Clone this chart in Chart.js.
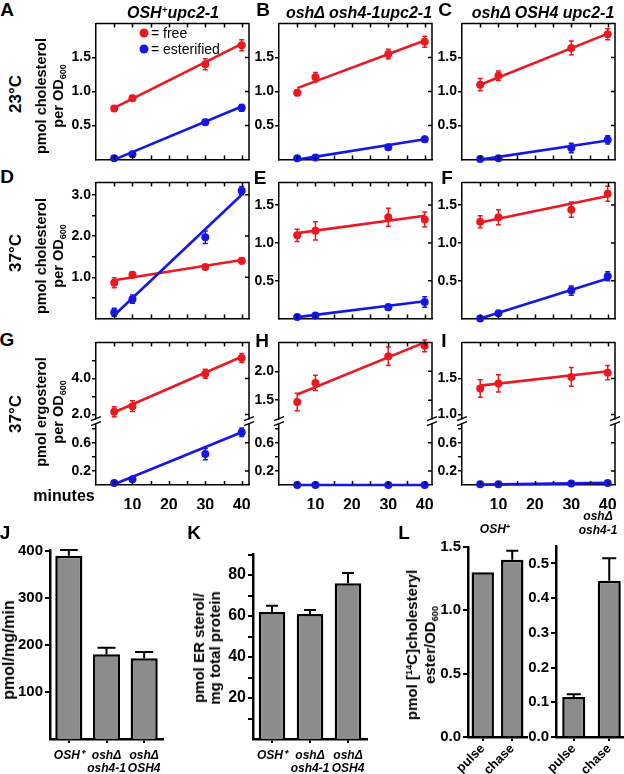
<!DOCTYPE html>
<html>
<head>
<meta charset="utf-8">
<script src="https://cdn.jsdelivr.net/npm/chart.js@4.4.0/dist/chart.umd.min.js"></script>
<style>
html, body { margin: 0; padding: 0; background: #fff; overflow: hidden; }
#fig { position: relative; width: 624px; height: 774px; overflow: hidden; font-family: "Liberation Sans", Arial, sans-serif; color: #000; }
#fig canvas { position: absolute; }
.t { position: absolute; white-space: nowrap; font-weight: bold; line-height: 1; transform: translate(-50%, -50%); text-align: center; }
.dot { position: absolute; width: 9px; height: 9px; border-radius: 50%; transform: translate(-50%, -50%); }
sub { font-size: 62%; vertical-align: -0.35em; line-height: 0; }
sup { font-size: 62%; vertical-align: 0.55em; line-height: 0; }
</style>
</head>
<body>
<div id="fig"></div>
<script>
// ---- time course data (minutes after shift) ----
const minutes = [5, 10, 30, 40];
const fitX = [5, 40];
const xTickVals = [5, 10, 15, 20, 25, 30, 35, 40];
const xLabelVals = [10, 20, 30, 40];

// A: OSH+ upc2-1, 23C
const freeA = [0.75, 0.90, 1.40, 1.68];
const freeErrA = [0.03, 0.04, 0.08, 0.08];
const estA = [0.02, 0.08, 0.55, 0.76];
const estErrA = [0.01, 0.04, 0.04, 0.05];
const fitFreeA = [0.76, 1.70];
const fitEstA = [0.0, 0.78];
// B
const freeB = [0.98, 1.21, 1.55, 1.73];
const freeErrB = [0.04, 0.07, 0.07, 0.08];
const estB = [0.02, 0.03, 0.18, 0.30];
const estErrB = [0.01, 0.01, 0.04, 0.04];
const fitFreeB = [1.05, 1.75];
const fitEstB = [0.0, 0.30];
// C
const freeC = [1.10, 1.23, 1.64, 1.84];
const freeErrC = [0.09, 0.07, 0.10, 0.08];
const estC = [0.01, 0.02, 0.17, 0.29];
const estErrC = [0.01, 0.01, 0.07, 0.06];
const fitFreeC = [1.10, 1.85];
const fitEstC = [0.0, 0.28];
// D: 37C
const freeD = [0.87, 1.06, 1.25, 1.40];
const freeErrD = [0.12, 0.07, 0.05, 0.07];
const estD = [0.15, 0.47, 1.97, 3.10];
const estErrD = [0.10, 0.10, 0.15, 0.10];
const fitFreeD = [0.93, 1.42];
const fitEstD = [0.08, 3.0];
// E
const freeE = [1.10, 1.16, 1.34, 1.31];
const freeErrE = [0.08, 0.12, 0.12, 0.10];
const estE = [0.02, 0.04, 0.15, 0.22];
const estErrE = [0.01, 0.01, 0.04, 0.07];
const fitFreeE = [1.13, 1.36];
const fitEstE = [0.02, 0.23];
// F
const freeF = [1.28, 1.34, 1.44, 1.65];
const freeErrF = [0.08, 0.10, 0.10, 0.10];
const estF = [0.0, 0.07, 0.37, 0.56];
const estErrF = [0.01, 0.02, 0.06, 0.06];
const fitFreeF = [1.27, 1.62];
const fitEstF = [0.0, 0.53];
// G: ergosterol
const freeG = [2.15, 2.46, 4.26, 5.14];
const freeErrG = [0.28, 0.30, 0.25, 0.25];
const estG = [0.03, 0.08, 0.44, 0.75];
const estErrG = [0.01, 0.02, 0.08, 0.06];
const fitFreeG = [2.12, 5.2];
const fitEstG = [0.01, 0.75];
// H
const freeH = [1.47, 1.80, 2.26, 2.44];
const freeErrH = [0.15, 0.13, 0.16, 0.10];
const estH = [0.0, 0.0, 0.0, 0.0];
const estErrH = [0, 0, 0, 0];
const fitFreeH = [1.60, 2.50];
const fitEstH = [0.0, 0.0];
// I
const freeI = [1.36, 1.43, 1.52, 1.58];
const freeErrI = [0.12, 0.12, 0.13, 0.10];
const estI = [0.01, 0.01, 0.02, 0.03];
const estErrI = [0, 0, 0, 0];
const fitFreeI = [1.40, 1.60];
const fitEstI = [0.005, 0.03];

// ---- bar panels ----
const strains = ['OSH⁺', ['oshΔ', 'osh4-1'], ['oshΔ', 'OSH4']];
const activityJ = [390, 180, 172];
const activityErrJ = [12, 14, 13];
const erSterolK = [62, 61, 76];
const erSterolErrK = [3, 2, 5];
const phases = ['pulse', 'chase'];
const esterOSH = [1.30, 1.40];
const esterErrOSH = [0, 0.07];
const esterOsh41 = [0.115, 0.45];
const esterErrOsh41 = [0.008, 0.065];

const FONT = '"Liberation Sans", Arial, sans-serif';
const RED = 'rgb(236,24,32)';
const BLUE = 'rgb(22,22,232)';
const GREY = 'rgb(140,140,140)';
Chart.defaults.font.family = FONT;
Chart.defaults.color = '#000';

const fig = document.getElementById('fig');

function addCanvas(left, top, w, h) {
    const c = document.createElement('canvas');
    c.width = w; c.height = h;
    c.style.left = left + 'px'; c.style.top = top + 'px';
    c.style.width = w + 'px'; c.style.height = h + 'px';
    fig.appendChild(c);
    return c;
}

function txt(html, cx, cy, css, rot) {
    const d = document.createElement('div');
    d.className = 't';
    d.innerHTML = html;
    d.style.left = cx + 'px';
    d.style.top = cy + 'px';
    if (css) d.style.cssText += css;
    if (rot) d.style.transform = 'translate(-50%,-50%) rotate(-90deg)';
    fig.appendChild(d);
    return d;
}

// error bars, drawn through each dataset's own y scale
const errPlugin = {
    id: 'errbars',
    afterDatasetsDraw(chart) {
        const ctx = chart.ctx;
        chart.data.datasets.forEach((ds, i) => {
            if (!ds.errs) return;
            const meta = chart.getDatasetMeta(i);
            const ys = chart.scales[meta.yAxisID];
            ctx.save();
            ctx.strokeStyle = ds.errColor;
            ctx.lineWidth = ds.errWidth;
            meta.data.forEach((el, j) => {
                const e = ds.errs[j];
                if (!e) return;
                const v = typeof ds.data[j] === 'object' ? ds.data[j].y : ds.data[j];
                const yHi = ys.getPixelForValue(v + e);
                const yLo = ys.getPixelForValue(ds.errUp ? v : v - e);
                ctx.beginPath();
                ctx.moveTo(el.x, yLo); ctx.lineTo(el.x, yHi);
                ctx.moveTo(el.x - ds.cap, yHi); ctx.lineTo(el.x + ds.cap, yHi);
                if (!ds.errUp) { ctx.moveTo(el.x - ds.cap, yLo); ctx.lineTo(el.x + ds.cap, yLo); }
                ctx.stroke();
            });
            ctx.restore();
        });
    }
};

// closed box with inward ticks, plus the axis break marks
const framePlugin = {
    id: 'frame',
    afterDraw(chart, args, opts) {
        if (!opts.on) return;
        const {ctx, chartArea: a} = chart;
        ctx.save();
        ctx.strokeStyle = '#000';
        ctx.lineWidth = 1.5;
        ctx.beginPath();
        ctx.moveTo(a.left, a.top); ctx.lineTo(a.right, a.top); ctx.lineTo(a.right, a.bottom);
        const xs = chart.scales.x;
        xs.ticks.forEach(t => {
            const px = Math.round(xs.getPixelForValue(t.value)) + 0.5;
            ctx.moveTo(px, a.top); ctx.lineTo(px, a.top + 4);
            ctx.moveTo(px, a.bottom); ctx.lineTo(px, a.bottom - 4);
        });
        opts.yIds.forEach(id => {
            const s = chart.scales[id];
            s.ticks.forEach(t => {
                if (t.label === '') return;
                const py = s.getPixelForValue(t.value);
                ctx.moveTo(a.right, py); ctx.lineTo(a.right - 4, py);
            });
        });
        ctx.stroke();
        if (opts.brk) {
            const yb = chart.scales.yTop.bottom;
            [a.left, a.right].forEach(xb => {
                ctx.fillStyle = '#fff';
                ctx.fillRect(xb - 3, yb - 2, 6, 4);
                ctx.beginPath();
                ctx.moveTo(xb - 5, yb - 1); ctx.lineTo(xb + 5, yb - 5);
                ctx.moveTo(xb - 5, yb + 4); ctx.lineTo(xb + 5, yb);
                ctx.stroke();
            });
        }
        ctx.restore();
    }
};

const tickFont = {family: FONT, size: 14, weight: 'bold'};

function yScale(range, major, minor, extra) {
    const vals = major.concat(minor).sort((a, b) => a - b);
    return Object.assign({
        type: 'linear', position: 'left', min: range[0], max: range[1],
        afterBuildTicks: s => { s.ticks = vals.map(v => ({value: v})); },
        afterFit: s => { s.width = AXW; },
        ticks: {font: tickFont, color: '#000', padding: 1, autoSkip: false,
            callback: v => major.includes(v) ? v.toFixed(1) : ''},
        grid: {drawOnChartArea: false, drawTicks: true, tickLength: 4, color: '#000', lineWidth: 1.5},
        border: {color: '#000', width: 1.5}
    }, extra);
}

function xScale(show, xh) {
    return {
        type: 'linear', min: 0, max: 42,
        afterBuildTicks: s => { s.ticks = xTickVals.map(v => ({value: v})); },
        afterFit: s => { s.height = xh; },
        ticks: {display: show, autoSkip: false, maxRotation: 0, padding: 3,
            font: {family: FONT, size: 16, weight: 'bold'}, color: '#000',
            callback: v => xLabelVals.includes(v) ? String(v) : ''},
        grid: {display: false},
        border: {color: '#000', width: 1.5}
    };
}

const AXW = 42, PW = 153, PH = 144, PADT = 8, PADR = 8;
const colX = [96, 279, 462];
const rowY = [22, 181, 341];

const timePanels = [
    {col: 0, row: 0, free: freeA, freeErr: freeErrA, est: estA, estErr: estErrA, fitFree: fitFreeA, fitEst: fitEstA,
        range: [0, 2.0], major: [0.5, 1.0, 1.5], minor: []},
    {col: 1, row: 0, free: freeB, freeErr: freeErrB, est: estB, estErr: estErrB, fitFree: fitFreeB, fitEst: fitEstB,
        range: [0, 2.0], major: [0.5, 1.0, 1.5], minor: []},
    {col: 2, row: 0, free: freeC, freeErr: freeErrC, est: estC, estErr: estErrC, fitFree: fitFreeC, fitEst: fitEstC,
        range: [0, 2.0], major: [0.5, 1.0, 1.5], minor: []},
    {col: 0, row: 1, free: freeD, freeErr: freeErrD, est: estD, estErr: estErrD, fitFree: fitFreeD, fitEst: fitEstD,
        range: [0, 3.3], major: [1.0, 2.0, 3.0], minor: [0.5, 1.5, 2.5]},
    {col: 1, row: 1, free: freeE, freeErr: freeErrE, est: estE, estErr: estErrE, fitFree: fitFreeE, fitEst: fitEstE,
        range: [0, 1.8], major: [0.5, 1.0, 1.5], minor: []},
    {col: 2, row: 1, free: freeF, freeErr: freeErrF, est: estF, estErr: estErrF, fitFree: fitFreeF, fitEst: fitEstF,
        range: [0, 1.8], major: [0.5, 1.0, 1.5], minor: []},
    {col: 0, row: 2, free: freeG, freeErr: freeErrG, est: estG, estErr: estErrG, fitFree: fitFreeG, fitEst: fitEstG, brk: true,
        upper: [1.6, 6.0], upperMajor: [2.0, 4.0], upperMinor: [3.0, 5.0],
        lower: [0, 0.9], lowerMajor: [0.2, 0.6], lowerMinor: [0.4, 0.8]},
    {col: 1, row: 2, free: freeH, freeErr: freeErrH, est: estH, estErr: estErrH, fitFree: fitFreeH, fitEst: fitEstH, brk: true,
        upper: [1.13, 2.5], upperMajor: [1.5, 2.0], upperMinor: [],
        lower: [0, 0.9], lowerMajor: [0.2, 0.6], lowerMinor: [0.4, 0.8]},
    {col: 2, row: 2, free: freeI, freeErr: freeErrI, est: estI, estErr: estErrI, fitFree: fitFreeI, fitEst: fitEstI, brk: true,
        upper: [0.9, 2.0], upperMajor: [1.0, 1.5], upperMinor: [],
        lower: [0, 0.9], lowerMajor: [0.2, 0.6], lowerMinor: [0.4, 0.8]}
];

function pointSet(vals, errs, color, yId, order) {
    return {
        data: minutes.map((m, i) => ({x: m, y: vals[i]})),
        yAxisID: yId, showLine: false, clip: false, order: order,
        pointRadius: 4, pointBackgroundColor: color, pointBorderColor: color, pointBorderWidth: 0,
        errs: errs, errColor: color, errWidth: 1.5, cap: 2.5
    };
}

function lineSet(vals, color, yId, order) {
    return {
        data: fitX.map((m, i) => ({x: m, y: vals[i]})),
        yAxisID: yId, showLine: true, clip: false, order: order,
        pointRadius: 0, borderColor: color, borderWidth: 2.6, tension: 0
    };
}

function timeChart(p) {
    const last = p.row === 2;
    const xh = last ? 24 : 3;
    const cv = addCanvas(colX[p.col] - AXW, rowY[p.row] - PADT, AXW + PW + PADR, PADT + PH + xh);
    const yF = p.brk ? 'yTop' : 'y';
    const yE = p.brk ? 'yBot' : 'y';
    const scales = {x: xScale(last, xh)};
    if (p.brk) {
        scales.yBot = yScale(p.lower, p.lowerMajor, p.lowerMinor, {stack: 'brk', stackWeight: 64});
        scales.yTop = yScale(p.upper, p.upperMajor, p.upperMinor, {stack: 'brk', stackWeight: 80});
    } else {
        scales.y = yScale(p.range, p.major, p.minor, {});
    }
    new Chart(cv, {
        type: 'scatter',
        data: {datasets: [
            pointSet(p.est, p.estErr, BLUE, yE, 1),
            lineSet(p.fitEst, BLUE, yE, 2),
            pointSet(p.free, p.freeErr, RED, yF, 3),
            lineSet(p.fitFree, RED, yF, 4)
        ]},
        options: {
            responsive: false, animation: false, devicePixelRatio: 1,
            layout: {padding: {top: PADT, right: PADR, left: 0, bottom: 0}},
            scales: scales,
            plugins: {
                legend: {display: false}, tooltip: {enabled: false},
                frame: {on: true, yIds: p.brk ? ['yTop', 'yBot'] : ['y'], brk: !!p.brk}
            }
        },
        plugins: [errPlugin, framePlugin]
    });
}

timePanels.forEach(timeChart);

function barChart(c) {
    const cv = addCanvas(c.left, c.top, c.axW + c.areaW + c.padR, c.padT + c.areaH + c.xh);
    new Chart(cv, {
        type: 'bar',
        data: {
            labels: c.labels,
            datasets: [{
                data: c.values, backgroundColor: GREY, borderColor: '#000', borderWidth: 2.5,
                barPercentage: c.barPct, categoryPercentage: 1,
                errs: c.errs, errUp: true, errColor: '#000', errWidth: 2, cap: c.cap
            }]
        },
        options: {
            responsive: false, animation: false, devicePixelRatio: 1,
            layout: {padding: {top: c.padT, right: c.padR, left: 0, bottom: 0}},
            scales: {
                x: {
                    afterFit: s => { s.height = c.xh; },
                    ticks: {autoSkip: false, padding: c.xPad, minRotation: c.rot, maxRotation: c.rot,
                        font: c.xFont, color: '#000'},
                    grid: {drawOnChartArea: false, offset: false, tickLength: 4, color: '#000', lineWidth: 2},
                    border: {color: '#000', width: 2.5}
                },
                y: {
                    min: 0, max: c.max,
                    afterBuildTicks: s => { s.ticks = c.ticks.map(v => ({value: v})); },
                    afterFit: s => { s.width = c.axW; },
                    ticks: {autoSkip: false, padding: 2, font: {family: FONT, size: c.yFontSize, weight: 'bold'}, color: '#000',
                        callback: v => c.labelled.includes(v) ? v.toFixed(c.dec) : ''},
                    grid: {drawOnChartArea: false, tickLength: 5, color: '#000', lineWidth: 2},
                    border: {color: '#000', width: 2.5}
                }
            },
            plugins: {legend: {display: false}, tooltip: {enabled: false}}
        },
        plugins: [errPlugin]
    });
}

const catFont = {family: FONT, size: 12, weight: 'bold', style: 'italic', lineHeight: 1.08};
const phaseFont = {family: FONT, size: 13, weight: 'bold'};

barChart({left: 0, top: 539, axW: 50, areaW: 113, padR: 6, padT: 10, areaH: 190, xh: 35,
    labels: strains, values: activityJ, errs: activityErrJ, max: 402,
    ticks: [100, 200, 300, 400], labelled: [100, 200, 300, 400], dec: 0, yFontSize: 15,
    barPct: 0.72, cap: 9, rot: 0, xPad: 6, xFont: catFont});

barChart({left: 208, top: 543, axW: 45, areaW: 114, padR: 5, padT: 10, areaH: 186, xh: 35,
    labels: strains, values: erSterolK, errs: erSterolErrK, max: 90,
    ticks: [10, 20, 30, 40, 50, 60, 70, 80, 90], labelled: [20, 40, 60, 80], dec: 0, yFontSize: 16,
    barPct: 0.7, cap: 6, rot: 0, xPad: 6, xFont: catFont});

barChart({left: 430, top: 536, axW: 38, areaW: 59, padR: 3, padT: 10, areaH: 191, xh: 37,
    labels: phases, values: esterOSH, errs: esterErrOSH, max: 1.5,
    ticks: [0, 0.5, 1.0, 1.5], labelled: [0, 0.5, 1.0, 1.5], dec: 1, yFontSize: 15,
    barPct: 0.76, cap: 6, rot: 45, xPad: 0, xFont: phaseFont});

barChart({left: 518, top: 535, axW: 38, areaW: 71, padR: 20, padT: 10, areaH: 192, xh: 37,
    labels: phases, values: esterOsh41, errs: esterErrOsh41, max: 0.55,
    ticks: [0, 0.1, 0.2, 0.3, 0.4, 0.5], labelled: [0, 0.1, 0.2, 0.3, 0.4, 0.5], dec: 1, yFontSize: 15,
    barPct: 0.65, cap: 7, rot: 45, xPad: 0, xFont: phaseFont});

// ---- text ----
const big = 'font-size:19px;';
[['A', 7, 9], ['B', 263, 9], ['C', 445, 9], ['D', 7, 176], ['E', 260, 177], ['F', 447, 177],
 ['G', 7, 339], ['H', 262, 340], ['I', 444, 340], ['J', 5, 532], ['K', 194, 532], ['L', 404, 532]]
    .forEach(l => txt(l[0], l[1], l[2], big));

const titleCss = 'font-size:16px;font-style:italic;';
txt('OSH<sup>+</sup>upc2-1', 173, 13, titleCss);
txt('oshΔ osh4-1upc2-1', 359, 13, titleCss);
txt('oshΔ OSH4 upc2-1', 543, 13, titleCss);

const sideCss = 'font-size:17px;';
const ylabCss = 'font-size:14.5px;line-height:17px;';
txt('23°C', 15, 94, sideCss, true);
txt('pmol cholesterol<br>per OD<sub>600</sub>', 50, 96, ylabCss, true);
txt('37°C', 15, 253, sideCss, true);
txt('pmol cholesterol<br>per OD<sub>600</sub>', 50, 256, ylabCss, true);
txt('37°C', 15, 414, sideCss, true);
txt('pmol ergosterol<br>per OD<sub>600</sub>', 50, 412, ylabCss, true);
txt('minutes', 64, 496, 'font-size:16px;');

// legend of panel A
const leg = [['= free', RED, 33], ['= esterified', BLUE, 49]];
leg.forEach(l => {
    const d = document.createElement('div');
    d.className = 'dot';
    d.style.left = '144px'; d.style.top = l[2] + 'px'; d.style.background = l[1];
    fig.appendChild(d);
    const t = txt(l[0], 0, l[2], 'font-size:14px;font-weight:normal;');
    t.style.transform = 'translate(0,-50%)';
    t.style.left = '151px';
});

txt('pmol/mg/min', 9, 650, 'font-size:16px;', true);
txt('pmol ER sterol/<br>mg total protein', 207, 648, 'font-size:15px;line-height:16px;', true);
txt('pmol [<sup>14</sup>C]cholesteryl<br>ester/OD<sub>600</sub>', 421, 645, 'font-size:15px;line-height:18px;', true);
txt('OSH<sup>+</sup>', 495, 529, 'font-size:12px;font-style:italic;');
txt('oshΔ<br>osh4-1', 598, 523, 'font-size:12px;font-style:italic;line-height:14px;');
</script>
</body>
</html>
